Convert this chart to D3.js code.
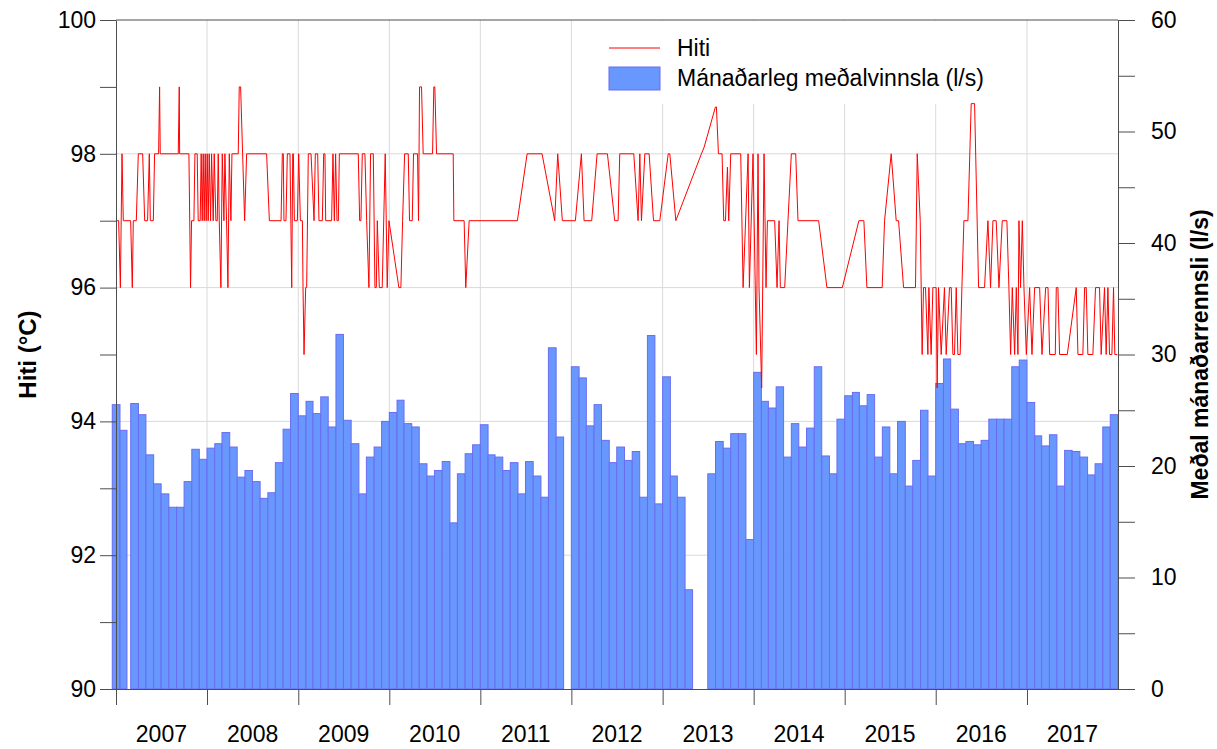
<!DOCTYPE html>
<html>
<head>
<meta charset="utf-8">
<script src="https://cdn.jsdelivr.net/npm/d3@7"></script>
<style>
body { margin: 0; background: #fff; }
text { font-family: "Liberation Sans", Arial, sans-serif; }
</style>
</head>
<body>
<svg id="chart" width="1217" height="749"></svg>
<script>
// monthly mean flow (l/s), Jan 2007 - Dec 2017
const flow = [
    25.5, 23.2, 25.6, 24.6, 21.0, 18.4, 17.5, 16.3, 16.3, 18.6, 21.5, 20.6,
    21.6, 22.0, 23.0, 21.7, 19.0, 19.6, 18.6, 17.1, 17.6, 20.3, 23.3, 26.5,
    24.5, 25.8, 24.7, 26.2, 23.5, 31.8, 24.1, 22.0, 17.5, 20.8, 21.7, 24.0,
    24.8, 25.9, 23.8, 23.5, 20.2, 19.1, 19.6, 20.4, 14.9, 19.3, 21.1, 21.9,
    23.7, 21.0, 20.8, 19.6, 20.3, 17.5, 20.4, 19.1, 17.2, 30.6, 22.6, 0,
    28.9, 27.9, 23.6, 25.5, 22.3, 20.3, 21.7, 20.5, 21.3, 17.2, 31.7, 16.6,
    28.0, 19.1, 17.2, 8.9, 0, 0, 19.3, 22.2, 21.6, 22.9, 22.9, 13.4,
    28.4, 25.8, 25.2, 27.1, 20.8, 23.8, 21.7, 23.4, 28.9, 20.9, 19.3, 24.2,
    26.3, 26.6, 25.4, 26.4, 20.8, 23.5, 19.3, 24.0, 18.2, 20.5, 25.0, 19.1,
    27.4, 29.6, 25.1, 22.0, 22.2, 21.9, 22.3, 24.2, 24.2, 24.2, 28.9, 29.5,
    25.7, 22.7, 21.8, 22.8, 18.2, 21.4, 21.3, 20.8, 19.2, 20.2, 23.5, 24.6
]

// the first two months are logged centred on the 1st, the rest from the 1st (days of shift)
const flowShiftDays = [-15, -15]

// temperature readings: decimal year and value (°C)
const hitiYear = [
    2007.007, 2007.029, 2007.048, 2007.066, 2007.080, 2007.161, 2007.179, 2007.190, 2007.223, 2007.245,
    2007.293, 2007.315, 2007.347, 2007.366, 2007.377, 2007.410, 2007.424, 2007.468, 2007.479, 2007.486,
    2007.684, 2007.695, 2007.699, 2007.801, 2007.819, 2007.830, 2007.856, 2007.867, 2007.892, 2007.903,
    2007.925, 2007.936, 2007.947, 2007.958, 2007.969, 2007.980, 2007.991, 2008.002, 2008.013, 2008.024,
    2008.039, 2008.050, 2008.068, 2008.079, 2008.097, 2008.112, 2008.123, 2008.134, 2008.152, 2008.167,
    2008.185, 2008.196, 2008.214, 2008.229, 2008.244, 2008.262, 2008.273, 2008.342, 2008.353, 2008.368,
    2008.390, 2008.412, 2008.434, 2008.653, 2008.683,
    2008.811, 2008.825, 2008.836, 2008.843, 2008.865, 2008.880, 2008.909, 2008.928, 2008.939, 2008.946,
    2008.957, 2008.990, 2009.004, 2009.023, 2009.045, 2009.052, 2009.063, 2009.081, 2009.092, 2009.110,
    2009.140, 2009.173, 2009.187, 2009.213, 2009.227, 2009.264, 2009.279, 2009.293, 2009.301, 2009.366,
    2009.381, 2009.396, 2009.410, 2009.425, 2009.440, 2009.451, 2009.659, 2009.674, 2009.688, 2009.703,
    2009.732, 2009.751, 2009.776, 2009.794, 2009.824, 2009.842, 2009.857, 2009.868, 2009.890, 2009.922,
    2009.955, 2009.977, 2009.996, 2010.105, 2010.127, 2010.146, 2010.168, 2010.208, 2010.222, 2010.252,
    2010.266, 2010.310, 2010.321, 2010.332, 2010.354, 2010.372, 2010.475, 2010.489, 2010.500, 2010.519,
    2010.702, 2010.709, 2010.822, 2010.840, 2010.877, 2011.407, 2011.514, 2011.678, 2011.817, 2011.850,
    2011.901, 2012.044, 2012.110, 2012.139, 2012.223, 2012.282, 2012.395,
    2012.475, 2012.512, 2012.530, 2012.684, 2012.731, 2012.750, 2012.768, 2012.805, 2012.852, 2012.900,
    2012.969, 2013.061, 2013.079, 2013.145, 2013.426, 2013.456, 2013.580, 2013.591, 2013.613, 2013.653,
    2013.671, 2013.690, 2013.712, 2013.726, 2013.748, 2013.858, 2013.884, 2013.939, 2013.953, 2013.993,
    2014.030, 2014.048, 2014.059, 2014.088, 2014.114, 2014.136, 2014.151,
    2014.231, 2014.257, 2014.279, 2014.293, 2014.341, 2014.377, 2014.414, 2014.462, 2014.487, 2014.714,
    2014.805, 2014.974, 2015.156, 2015.211, 2015.244, 2015.412, 2015.438, 2015.511, 2015.566, 2015.592,
    2015.647, 2015.778, 2015.797, 2015.830, 2015.851, 2015.866, 2015.888, 2015.914, 2015.925, 2015.950,
    2015.969, 2015.987,
    2016.005, 2016.016, 2016.031, 2016.060, 2016.096, 2016.115, 2016.151, 2016.170, 2016.188, 2016.206,
    2016.225, 2016.243, 2016.268, 2016.287, 2016.309, 2016.353, 2016.389, 2016.426, 2016.470, 2016.535,
    2016.572, 2016.601, 2016.627, 2016.663, 2016.693, 2016.729, 2016.780, 2016.802, 2016.821, 2016.839,
    2016.865, 2016.883, 2016.901, 2016.912, 2016.930, 2016.949, 2016.967, 2016.993, 2017.029, 2017.055,
    2017.084, 2017.139, 2017.165, 2017.205, 2017.231, 2017.249, 2017.311, 2017.322, 2017.340, 2017.358,
    2017.443, 2017.541, 2017.560, 2017.614, 2017.633, 2017.651, 2017.669, 2017.724, 2017.753, 2017.797,
    2017.815, 2017.852, 2017.870, 2017.889, 2017.907, 2017.933, 2017.951, 2017.965, 2017.991
]
const hitiValue = [
    97, 97, 96, 98, 97, 97, 96, 97, 97, 98,
    98, 97, 97, 98, 97, 97, 98, 98, 99, 98,
    98, 99, 98, 98, 96, 97, 97, 98, 98, 97,
    97, 98, 97, 98, 97, 98, 97, 98, 97, 98,
    97, 98, 97, 98, 97, 97, 98, 97, 96, 98,
    97, 98, 97, 96, 98, 97, 98, 98, 99, 99,
    98, 97, 98, 98, 97,
    97, 98, 98, 97, 97, 98, 98, 96, 98, 98,
    97, 97, 98, 97, 97, 96, 95, 96, 96, 98,
    98, 97, 98, 98, 97, 97, 98, 98, 97, 97,
    98, 97, 98, 97, 97, 98, 98, 97, 97, 98,
    98, 97, 96, 98, 98, 96, 96, 97, 96, 96,
    98, 96, 97, 96, 96, 97, 98, 98, 97, 97,
    98, 98, 97, 99, 99, 98, 98, 99, 99, 98,
    98, 97, 97, 96, 97, 97, 98, 98, 97, 98,
    97, 97, 98, 97, 97, 98, 98,
    97, 97, 98, 98, 97, 98, 97, 98, 98, 97,
    97, 98, 98, 97, 98, 98.1, 98.7, 98.7, 98, 98,
    97, 97, 97.8, 97, 98, 98, 96, 98, 96, 98,
    95, 98, 96, 94.5, 98, 96, 97,
    97, 96, 97, 96, 96, 97, 98, 98, 97, 97,
    96, 96, 97, 97, 96, 96, 97, 98, 97, 97,
    96, 96, 98, 97, 95, 96, 96, 95, 96, 95,
    96, 96,
    96, 94.5, 96, 95, 96, 95, 96, 96, 95, 95,
    96, 95, 95, 96, 97, 97, 98.75, 98.75, 96, 96,
    97, 96, 97, 97, 96, 97, 97, 96, 95, 96,
    95, 96, 95, 97, 96, 97, 96, 95, 96, 95,
    96, 96, 95, 96, 96, 95, 95, 96, 96, 95,
    95, 96, 95, 95, 96, 96, 95, 95, 96, 96,
    95, 96, 95, 96, 95, 95, 96, 95, 95
]

const leftTicks = [90, 91, 92, 93, 94, 95, 96, 97, 98, 99, 100]
const rightTicks = [0, 5, 10, 15, 20, 25, 30, 35, 40, 45, 50, 55, 60]
const years = [2007, 2008, 2009, 2010, 2011, 2012, 2013, 2014, 2015, 2016, 2017]

let plotVars = ({
    left: 116,
    right: 1118,
    top: 20,
    bottom: 689,
    barFill: "#6898fd",
    barStroke: "#6b6bf2",
    axisColor: "#4d4d4d",
    gridColor: "#dadada",
    fontSize: "23px"
})

let svg = d3.select("#chart")

// turn a decimal year into a Date
function toDate(v) {
    let y = Math.floor(v)
    let start = new Date(y, 0, 1), end = new Date(y + 1, 0, 1)
    return new Date(+start + (v - y) * (end - start))
}

// scales
let xScale = d3.scaleTime()
    .domain([new Date(years[0], 0, 1), new Date(years[years.length - 1] + 1, 0, 1)])
    .range([plotVars.left, plotVars.right])

let yLeft = d3.scaleLinear().domain([90, 100]).range([plotVars.bottom, plotVars.top])
let yRight = d3.scaleLinear().domain([0, 60]).range([plotVars.bottom, plotVars.top])

// gridlines
svg.append("g").selectAll("line")
    .data(years.slice(1))
    .enter().append("line")
    .attr("x1", d => xScale(new Date(d, 0, 1)))
    .attr("x2", d => xScale(new Date(d, 0, 1)))
    .attr("y1", plotVars.top)
    .attr("y2", plotVars.bottom)
    .attr("stroke", plotVars.gridColor)

svg.append("g").selectAll("line")
    .data([92, 94, 96, 98])
    .enter().append("line")
    .attr("x1", plotVars.left)
    .attr("x2", plotVars.right)
    .attr("y1", d => yLeft(d))
    .attr("y2", d => yLeft(d))
    .attr("stroke", plotVars.gridColor)

// monthly bars
let months = d3.timeMonth.range(xScale.domain()[0], xScale.domain()[1])
let barStart = (i) => d3.timeDay.offset(months[i], flowShiftDays[i] || 0)
let barEnd = (i) => d3.timeDay.offset(d3.timeMonth.offset(months[i], 1), flowShiftDays[i] || 0)

svg.append("g").selectAll("rect")
    .data(flow)
    .enter().append("rect")
    .attr("x", (d, i) => xScale(barStart(i)))
    .attr("width", (d, i) => xScale(barEnd(i)) - xScale(barStart(i)))
    .attr("y", d => yRight(d))
    .attr("height", d => yRight(0) - yRight(d))
    .attr("fill", plotVars.barFill)
    .attr("stroke", plotVars.barStroke)
    .attr("stroke-width", 1)

// legend box hides the gridlines behind it
svg.append("rect")
    .attr("x", 597).attr("y", plotVars.top + 1)
    .attr("width", 403).attr("height", 83)
    .attr("fill", "#fff")

// temperature line
let hiti = hitiYear.map((d, i) => [toDate(d), hitiValue[i]])
let line = d3.line()
    .x(d => xScale(d[0]))
    .y(d => yLeft(d[1]))

svg.append("path")
    .datum(hiti)
    .attr("d", line)
    .attr("fill", "none")
    .attr("stroke", "#ff0000")
    .attr("stroke-width", 1)

// axes
let leftAxis = d3.axisLeft(yLeft)
    .tickValues(leftTicks)
    .tickSize(16).tickSizeOuter(0).tickPadding(4)
    .tickFormat(d => d % 2 == 0 ? d : "")

let rightAxis = d3.axisRight(yRight)
    .tickValues(rightTicks)
    .tickSize(17).tickSizeOuter(0).tickPadding(16)
    .tickFormat(d => d % 10 == 0 ? d : "")

let bottomAxis = d3.axisBottom(xScale)
    .tickValues(years.map(d => new Date(d, 0, 1)))
    .tickSize(16).tickSizeOuter(0)
    .tickFormat("")

svg.append("g").attr("transform", `translate(${plotVars.left},0)`).call(leftAxis)
svg.append("g").attr("transform", `translate(${plotVars.right},0)`).call(rightAxis)
svg.append("g").attr("transform", `translate(0,${plotVars.bottom})`).call(bottomAxis)

svg.selectAll(".tick text").style("font-size", plotVars.fontSize).attr("fill", "#000")
svg.selectAll(".domain, .tick line").attr("stroke", plotVars.axisColor)

// top frame line
svg.append("line")
    .attr("x1", plotVars.left).attr("x2", plotVars.right)
    .attr("y1", plotVars.top).attr("y2", plotVars.top)
    .attr("stroke", plotVars.axisColor)

// year labels centred in each year
svg.append("g").selectAll("text")
    .data(years)
    .enter().append("text")
    .attr("x", d => xScale(new Date(d, 6, 2)))
    .attr("y", 742)
    .attr("text-anchor", "middle")
    .style("font-size", plotVars.fontSize)
    .text(d => d)

// axis titles
svg.append("text")
    .attr("transform", `translate(36,${(plotVars.top + plotVars.bottom) / 2}) rotate(-90)`)
    .attr("text-anchor", "middle")
    .style("font-size", "24px").style("font-weight", "bold")
    .text("Hiti (°C)")

svg.append("text")
    .attr("transform", `translate(1208,${(plotVars.top + plotVars.bottom) / 2}) rotate(-90)`)
    .attr("text-anchor", "middle")
    .style("font-size", "23px").style("font-weight", "bold")
    .text("Meðal mánaðarrennsli (l/s)")

// legend
let legend = svg.append("g")
legend.append("line")
    .attr("x1", 609).attr("x2", 660).attr("y1", 48).attr("y2", 48)
    .attr("stroke", "#ff0000")
legend.append("rect")
    .attr("x", 609).attr("y", 67).attr("width", 51).attr("height", 23)
    .attr("fill", plotVars.barFill).attr("stroke", plotVars.barStroke)
legend.append("text").attr("x", 677).attr("y", 48).attr("dy", "0.35em")
    .style("font-size", plotVars.fontSize).text("Hiti")
legend.append("text").attr("x", 677).attr("y", 78).attr("dy", "0.35em")
    .style("font-size", plotVars.fontSize).text("Mánaðarleg meðalvinnsla (l/s)")
</script>
</body>
</html>
